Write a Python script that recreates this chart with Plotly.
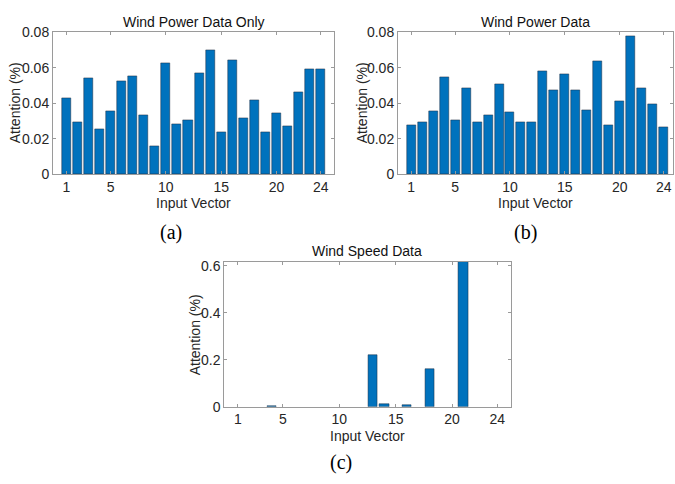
import plotly.graph_objects as go

vectors = list(range(1, 25))

power_only = [0.0427, 0.0291, 0.0542, 0.0255, 0.0356, 0.0522, 0.0555, 0.0331,
              0.0156, 0.0627, 0.0282, 0.0307, 0.0569, 0.0700, 0.0240, 0.0644,
              0.0316, 0.0420, 0.0240, 0.0342, 0.0271, 0.0462, 0.0591, 0.0589]

power = [0.0278, 0.0293, 0.0355, 0.0544, 0.0307, 0.0487, 0.0291, 0.0333,
         0.0507, 0.0347, 0.0293, 0.0291, 0.0582, 0.0473, 0.0564, 0.0476,
         0.0362, 0.0636, 0.0276, 0.0411, 0.0776, 0.0485, 0.0395, 0.0265]

speed = [0.0, 0.0, 0.0, 0.004, 0.0, 0.0, 0.0, 0.0,
         0.0, 0.0, 0.0, 0.0, 0.2197, 0.0096, 0.0, 0.0069,
         0.0, 0.162, 0.0, 0.0, 0.62, 0.0, 0.0, 0.0]

titles = ["Wind Power Data Only", "Wind Power Data", "Wind Speed Data"]
panel_labels = ["(a)", "(b)", "(c)"]
xtick_vals = [1, 5, 10, 15, 20, 24]
ytick_ab = [0, 0.02, 0.04, 0.06, 0.08]
ytick_c = [0, 0.2, 0.4, 0.6]

W, H = 675, 484
BAR = "#0072BD"
TXT = "#262626"
AX = "#9a9a9a"
FONT = "Liberation Sans, Arial, sans-serif"

# pixel boxes: (left, right, top, bottom)
boxes = [(53, 334, 25, 172), (398, 673, 25, 172), (224.3, 510.7, 262.7, 412.3)]
xranges = [[-0.2, 25.2], [-0.2, 24.85], [-0.2, 25.2]]
yranges = [[0, 0.08], [0, 0.08], [0, 0.6165]]
yticks = [ytick_ab, ytick_ab, ytick_c]
ytext = [["0", "0.02", "0.04", "0.06", "0.08"]] * 2 + [["0", "0.2", "0.4", "0.6"]]
datasets = [power_only, power, speed]
ylab_x = [15, 362, 195]
plabel_pos = [(171, 232), (525, 232), (341, 470)]

fig = go.Figure()
annotations = []
for i, (data, box) in enumerate(zip(datasets, boxes)):
    l, r, t, b = box
    xa = "x" if i == 0 else f"x{i+1}"
    ya = "y" if i == 0 else f"y{i+1}"
    lw = [0.5 if v > 0 else 0 for v in data]
    fig.add_trace(go.Bar(x=vectors, y=data, xaxis=xa, yaxis=ya, width=0.82,
                         marker=dict(color=BAR, line=dict(color="#1c2c40", width=lw)),
                         showlegend=False))
    axis_common = dict(showgrid=False, zeroline=False, showline=True, linecolor=AX,
                       linewidth=1, mirror="allticks", ticks="inside", ticklen=3,
                       tickcolor=AX, tickfont=dict(family=FONT, size=14, color=TXT))
    fig.layout[("xaxis" if i == 0 else f"xaxis{i+1}")] = dict(
        domain=[l / W, r / W], range=xranges[i], tickvals=xtick_vals,
        anchor=ya, **axis_common)
    fig.layout[("yaxis" if i == 0 else f"yaxis{i+1}")] = dict(
        domain=[1 - b / H, 1 - t / H], range=yranges[i], tickvals=yticks[i],
        ticktext=ytext[i], anchor=xa, **axis_common)
    cx = (l + r) / 2
    annotations.append(dict(text=titles[i], x=cx / W, y=1 - (t - 11) / H, xref="paper",
                            yref="paper", xanchor="center", yanchor="middle", showarrow=False,
                            font=dict(family=FONT, size=14, color="#111111")))
    annotations.append(dict(text="Input Vector", x=cx / W, y=1 - (b + 30) / H, xref="paper",
                            yref="paper", xanchor="center", yanchor="middle", showarrow=False,
                            font=dict(family=FONT, size=14, color=TXT)))
    annotations.append(dict(text="Attention (%)", x=ylab_x[i] / W, y=1 - ((t + b) / 2) / H,
                            xref="paper", yref="paper", xanchor="center", yanchor="middle",
                            textangle=-90, showarrow=False,
                            font=dict(family=FONT, size=14, color=TXT)))
    px, py = plabel_pos[i]
    annotations.append(dict(text=panel_labels[i], x=px / W, y=1 - py / H, xref="paper",
                            yref="paper", xanchor="center", yanchor="middle", showarrow=False,
                            font=dict(family="Liberation Serif, Times New Roman, serif",
                                      size=20, color="#000000")))

fig.update_layout(width=W, height=H, margin=dict(l=0, r=0, t=0, b=0),
                  paper_bgcolor="white", plot_bgcolor="white", bargap=0,
                  annotations=annotations)

fig.write_html("out.html")
